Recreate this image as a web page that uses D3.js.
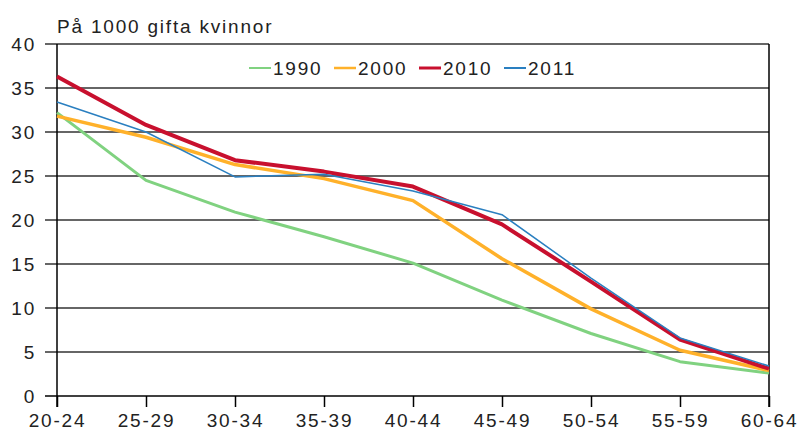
<!DOCTYPE html>
<html>
<head>
<meta charset="utf-8">
<script src="https://cdn.jsdelivr.net/npm/d3@7"></script>
<style>
  body { margin: 0; background: #fff; }
  text { font-family: "Liberation Sans", Arial, sans-serif; fill: #222; letter-spacing: 1.8px; }
</style>
</head>
<body>
<svg></svg>
<script>
const width = 801, height = 437;
const margin = { top: 44, right: 32, bottom: 41, left: 57 };

const ageGroups = ["20-24", "25-29", "30-34", "35-39", "40-44", "45-49", "50-54", "55-59", "60-64"];
const yTicks = [0, 5, 10, 15, 20, 25, 30, 35, 40];
const years = ["1990", "2000", "2010", "2011"];

const v1990 = [32.2, 24.5, 20.9, 18.1, 15.1, 10.9, 7.1, 3.9, 2.6];
const v2000 = [31.8, 29.4, 26.3, 24.7, 22.2, 15.6, 9.9, 5.2, 2.9];
const v2010 = [36.3, 30.8, 26.8, 25.5, 23.8, 19.5, 13.0, 6.4, 3.1];
const v2011 = [33.4, 30.0, 24.9, 25.2, 23.3, 20.6, 13.4, 6.6, 3.4];

const series = [
  { name: "1990", values: v1990, color: "#80d280", width: 3 },
  { name: "2000", values: v2000, color: "#ffb12a", width: 3.5 },
  { name: "2010", values: v2010, color: "#c8102e", width: 4 },
  { name: "2011", values: v2011, color: "#2a7fc0", width: 1.5 }
];

const svg = d3.select("svg")
    .attr("width", width)
    .attr("height", height);

const x = d3.scalePoint()
    .domain(ageGroups)
    .range([margin.left, width - margin.right]);

const y = d3.scaleLinear()
    .domain([0, 40])
    .range([height - margin.bottom, margin.top]);

// gridlines (extend left past the axis like tick marks)
svg.append("g")
    .selectAll("line")
    .data(yTicks)
    .join("line")
    .attr("x1", margin.left - 12)
    .attr("x2", width - margin.right)
    .attr("y1", d => y(d))
    .attr("y2", d => y(d))
    .attr("stroke", d => d === 0 ? "#000" : "#333")
    .attr("stroke-width", 1.5);

// y labels
svg.append("g")
    .selectAll("text")
    .data(yTicks)
    .join("text")
    .attr("x", 36)
    .attr("y", d => y(d) + 7)
    .attr("text-anchor", "end")
    .style("font-size", "19px")
    .text(d => d);

// left and right axis lines
svg.append("line")
    .attr("x1", margin.left).attr("x2", margin.left)
    .attr("y1", y(40)).attr("y2", y(0) + 11)
    .attr("stroke", "#000").attr("stroke-width", 1.5);
svg.append("line")
    .attr("x1", width - margin.right).attr("x2", width - margin.right)
    .attr("y1", y(40)).attr("y2", y(0) + 11)
    .attr("stroke", "#000").attr("stroke-width", 1.5);

// x axis ticks + labels
const xAxis = svg.append("g")
    .attr("transform", `translate(0,${y(0)})`)
    .call(d3.axisBottom(x).tickSize(11).tickSizeOuter(0));
xAxis.select(".domain").remove();
xAxis.selectAll(".tick line").attr("stroke", "#000").attr("stroke-width", 1.5);
xAxis.selectAll(".tick text")
    .attr("y", 18)
    .style("font-size", "19px")
    .style("font-family", '"Liberation Sans", Arial, sans-serif')
    .attr("fill", "#222");

// lines
const line = d3.line()
    .x((d, i) => x(ageGroups[i]))
    .y(d => y(d));

svg.append("g")
    .selectAll("path")
    .data(series)
    .join("path")
    .attr("d", d => line(d.values))
    .attr("fill", "none")
    .attr("stroke", d => d.color)
    .attr("stroke-width", d => d.width)
    .attr("stroke-linejoin", "round");

// title
svg.append("text")
    .attr("x", 57)
    .attr("y", 33)
    .style("font-size", "19px")
    .text("På 1000 gifta kvinnor");

// legend
const legend = svg.append("g")
    .selectAll("g")
    .data(series)
    .join("g")
    .attr("transform", (d, i) => `translate(${249 + i * 85},68)`);

legend.append("line")
    .attr("x1", 0).attr("x2", 22)
    .attr("stroke", d => d.color)
    .attr("stroke-width", d => Math.max(2, d.width - 1));

legend.append("text")
    .attr("x", 24)
    .attr("y", 7)
    .style("font-size", "19px")
    .text(d => d.name);
</script>
</body>
</html>
